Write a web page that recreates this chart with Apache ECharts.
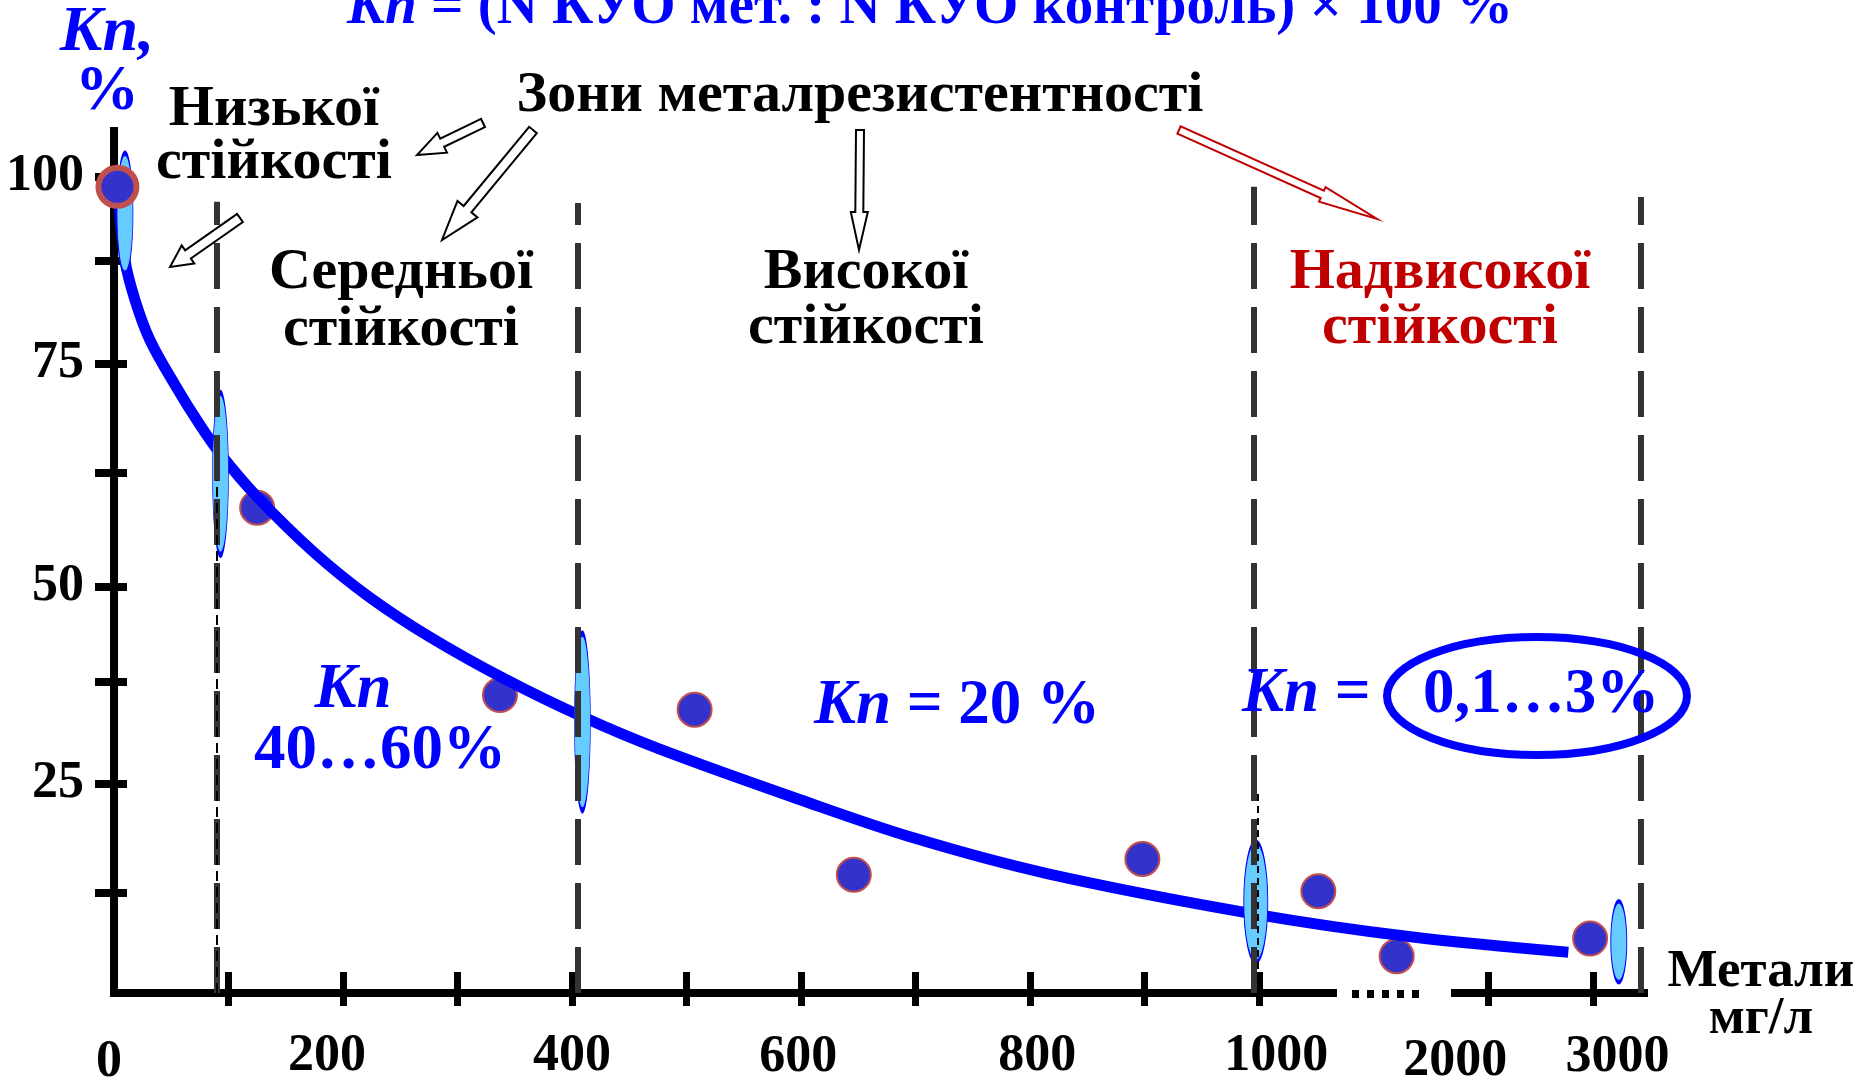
<!DOCTYPE html>
<html>
<head>
<meta charset="utf-8">
<script src="https://cdn.jsdelivr.net/npm/echarts@6/dist/echarts.min.js"></script>
<style>
  html, body { margin: 0; padding: 0; background: #fff; }
  #chart { width: 1864px; height: 1088px; }
</style>
</head>
<body>
<div id="chart"></div>
<script>
// ---- data (metals, mg/l on x; Kn, % on y) ----
const curveMg = [3.5, 9.6, 18.3, 31.4, 53.3, 75.1, 93.4, 124.9, 175.5, 223.6, 276, 342.4, 409.6, 476, 599.1, 698.7, 815.7, 994.8, 1670, 2760];
const curveKn = [98.1, 87.6, 82.8, 77.9, 72.6, 68.0, 64.6, 59.9, 53.7, 48.6, 43.4, 37.8, 33.2, 29.3, 23.2, 18.8, 14.7, 9.9, 7.0, 5.1];

const controlMg = [3];
const controlKn = [98.5];

const dotsMg = [125, 337, 507, 646, 898, 1258, 1600, 2967];
const dotsKn = [58.7, 35.9, 34.1, 14.6, 16.4, 12.7, 4.6, 6.8];

const ellipseMg = [9.6, 93, 409, 997, 3239];
const ellipseKn = [94.6, 62.4, 32.6, 11.4, 6.4];

const zoneMg = [90, 405, 995, 3450];
const zoneTop = [96.3, 96.1, 98.5, 97.0];

const xLabelMg = [0, 200, 400, 600, 800, 1000, 2000, 3000];
const xTickMg = [100, 200, 300, 400, 500, 600, 700, 800, 900, 1000, 2000, 3000];
const yLabels = [25, 50, 75, 100];
const yTicks = [12.5, 25, 37.5, 50, 62.5, 75, 87.5, 100];
// the hand-drawn y axis is not evenly spaced: nominal Kn -> linear axis units
const yWarpKn = [0, 12.5, 25, 37.5, 50, 62.5, 75, 87.5, 100];
const yWarpAx = [0, 12.25, 25.6, 38.1, 49.74, 63.7, 77.05, 89.67, 100];

// styles
const ellipseSize = [[16, 120], [16, 162], [16, 177], [24, 120], [16, 81]];
const xLabelPad = [[6, 10, 0, 0], [0, 32, 0, 0], [0, 0, 0, 0], [1, 6, 0, 0], [0, 0, 0, 14], [0, 0, 0, 34], [5, 66, 0, 0], [1, 0, 0, 48]];
const F = "'Liberation Serif','Times New Roman',serif";
const BLUE = '#0000FF';

// broken x axis: 0..1000 linear, then 1000..2000 and 2000..3000 squeezed
function toPos(v) {
  if (v <= 1000) return v / 100;
  if (v <= 2000) return 10 + (v - 1000) / 500;
  return 12 + (v - 2000) / 1000 * 0.92;
}
function toY(kn) {
  const n = yWarpKn.length;
  if (kn >= yWarpKn[n - 1]) {
    const s = (yWarpAx[n - 1] - yWarpAx[n - 2]) / (yWarpKn[n - 1] - yWarpKn[n - 2]);
    return yWarpAx[n - 1] + (kn - yWarpKn[n - 1]) * s;
  }
  for (let i = 1; i < n; i++) {
    if (kn <= yWarpKn[i]) {
      const t = (kn - yWarpKn[i - 1]) / (yWarpKn[i] - yWarpKn[i - 1]);
      return yWarpAx[i - 1] + t * (yWarpAx[i] - yWarpAx[i - 1]);
    }
  }
  return 0;
}
const pts = (xs, ys) => xs.map((v, i) => [toPos(v), toY(ys[i])]);

function txt(x, y, text, size, color, extra) {
  return {
    type: 'text', x: x, y: y, z: 100,
    style: Object.assign({
      text: text, fontFamily: F, fontWeight: 'bold', fontSize: size,
      fill: color, align: 'center', verticalAlign: 'middle'
    }, extra || {})
  };
}
function knRich(text, size, align) {
  return {
    text: text, align: align || 'center', verticalAlign: 'middle',
    rich: {
      i: { fontFamily: F, fontWeight: 'bold', fontStyle: 'italic', fontSize: size, fill: BLUE },
      r: { fontFamily: F, fontWeight: 'bold', fontSize: size, fill: BLUE }
    }
  };
}
function arrow(x1, y1, x2, y2, sw, hw, hl, color) {
  const dx = x2 - x1, dy = y2 - y1, L = Math.hypot(dx, dy);
  const ux = dx / L, uy = dy / L, nx = -uy, ny = ux;
  const bx = x2 - ux * hl, by = y2 - uy * hl;
  const p = (x, y, s) => [x + nx * s, y + ny * s];
  return {
    type: 'polygon', z: 90,
    shape: { points: [p(x1, y1, sw / 2), p(bx, by, sw / 2), p(bx, by, hw / 2), [x2, y2],
                      p(bx, by, -hw / 2), p(bx, by, -sw / 2), p(x1, y1, -sw / 2)] },
    style: { fill: '#fff', stroke: color, lineWidth: 2 }
  };
}

const zoneLines = zoneMg.map((m, i) => [
  { coord: [toPos(m), 0] }, { coord: [toPos(m), toY(zoneTop[i])] }
]);
zoneLines.push([{ coord: [toPos(90), 0], lineStyle: { type: [10, 6], width: 2, color: '#000' } },
                { coord: [toPos(90), toY(61.7)] }]);
zoneLines.push([{ coord: [toPos(999), 0], lineStyle: { type: [7, 5], width: 2, color: '#000' } },
                { coord: [toPos(999), toY(24)] }]);

const xLabelRich = {};
xLabelMg.forEach((m, i) => {
  xLabelRich['l' + i] = { fontFamily: F, fontWeight: 'bold', fontSize: 52, color: '#000', padding: xLabelPad[i] };
});

const chart = echarts.init(document.getElementById('chart'));
const xMax = 13.36, yMax = 105.6;
const xBase = { type: 'value', min: 0, max: xMax, position: 'bottom', splitLine: { show: false } };
const yBase = { type: 'value', min: 0, max: yMax, position: 'left', splitLine: { show: false } };

chart.setOption({
  animation: false,
  backgroundColor: '#fff',
  grid: { left: 114, top: 131, right: 220, bottom: 95, containLabel: false, outerBoundsMode: 'none' },
  xAxis: [
    Object.assign({}, xBase, {
      axisLine: { show: true, lineStyle: { color: '#000', width: 8, cap: 'square' } },
      axisTick: { show: true, inside: false, length: 13, lineStyle: { color: '#000', width: 7 },
                  customValues: xTickMg.map(toPos) },
      axisLabel: {
        show: true, margin: 38, color: '#000', fontFamily: F, fontWeight: 'bold', fontSize: 52,
        customValues: xLabelMg.map(toPos), rich: xLabelRich,
        formatter: function (v) {
          const i = xLabelMg.findIndex(m => Math.abs(toPos(m) - v) < 1e-6);
          return i >= 0 ? '{l' + i + '|' + xLabelMg[i] + '}' : '';
        }
      }
    }),
    Object.assign({}, xBase, {
      axisLine: { show: false },
      axisTick: { show: true, inside: true, length: 21, lineStyle: { color: '#000', width: 7 },
                  customValues: xTickMg.map(toPos) },
      axisLabel: { show: false }
    })
  ],
  yAxis: [
    Object.assign({}, yBase, {
      axisLine: { show: true, lineStyle: { color: '#000', width: 8, cap: 'square' } },
      axisTick: { show: true, inside: false, length: 19, lineStyle: { color: '#000', width: 8 },
                  customValues: yTicks.map(toY) },
      axisLabel: {
        show: true, margin: 30, color: '#000', fontFamily: F, fontWeight: 'bold', fontSize: 52,
        customValues: yLabels.map(toY),
        formatter: function (v) {
          const k = yLabels.find(l => Math.abs(toY(l) - v) < 1e-6);
          return k === undefined ? '' : String(k);
        }
      }
    }),
    Object.assign({}, yBase, {
      axisLine: { show: false },
      axisTick: { show: true, inside: true, length: 13, lineStyle: { color: '#000', width: 8 },
                  customValues: yTicks.map(toY) },
      axisLabel: { show: false }
    })
  ],
  series: [
    {
      name: 'zones', type: 'line', data: [], silent: true, z: 1,
      markLine: {
        silent: true, symbol: ['none', 'none'], label: { show: false },
        lineStyle: { color: '#333', width: 6, type: [46, 18] },
        data: zoneLines
      }
    },
    {
      name: 'points', type: 'scatter', z: 2,
      symbol: 'circle', symbolSize: 34,
      itemStyle: { color: '#3333CC', borderColor: '#C0504D', borderWidth: 2, opacity: 1 },
      data: pts(dotsMg, dotsKn)
    },
    {
      name: 'Kn', type: 'line', z: 3, smooth: 0.35, showSymbol: false, symbol: 'none',
      lineStyle: { color: BLUE, width: 11, join: 'round' },
      data: pts(curveMg, curveKn)
    },
    {
      name: 'zone-marks', type: 'scatter', z: 4, symbol: 'circle',
      itemStyle: { color: '#66CCFF', borderColor: BLUE, borderWidth: 2, opacity: 1 },
      data: pts(ellipseMg, ellipseKn).map((p, i) => ({ value: p, symbolSize: ellipseSize[i] }))
    },
    {
      name: 'control', type: 'scatter', z: 5, symbol: 'circle', symbolSize: 38,
      itemStyle: { color: '#3333CC', borderColor: '#C0504D', borderWidth: 6, opacity: 1 },
      data: pts(controlMg, controlKn)
    }
  ],
  graphic: [
    // break of the x axis
    { type: 'rect', z: 80, shape: { x: 1337, y: 983, width: 114, height: 22 }, style: { fill: '#fff' } },
    { type: 'line', z: 81, shape: { x1: 1352, y1: 994, x2: 1424, y2: 994 },
      style: { stroke: '#000', lineWidth: 8, lineDash: [7, 8] } },

    // title (cut by the top edge)
    { type: 'text', x: 930, y: 8, z: 100,
      style: knRich('{i|Kn}{r| = (N КУО мет. : N КУО контроль) × 100 %}', 57) },

    // axis names
    { type: 'text', x: 107, y: 33, z: 100, style: knRich('{i|Kn,}', 64) },
    txt(107, 92, '%', 64, BLUE),
    txt(1761, 996, 'Метали\nмг/л', 53, '#000', { lineHeight: 47 }),

    // zone captions
    txt(860, 96, 'Зони металрезистентності', 58, '#000'),
    txt(274, 137, 'Низької\nстійкості', 58, '#000', { lineHeight: 53 }),
    txt(401, 302, 'Середньої\nстійкості', 58, '#000', { lineHeight: 57 }),
    txt(866, 301, 'Високої\nстійкості', 58, '#000', { lineHeight: 55 }),
    txt(1440, 301, 'Надвисокої\nстійкості', 58, '#C00000', { lineHeight: 55 }),

    // Kn values
    { type: 'text', x: 353, y: 691, z: 100, style: knRich('{i|Kn}', 63) },
    txt(380, 752, '40…60%', 63, BLUE),
    { type: 'text', x: 957, y: 707, z: 100, style: knRich('{i|Kn}{r| = 20 %}', 63) },
    { type: 'text', x: 1242, y: 695, z: 100, style: knRich('{i|Kn}{r| =}', 63, 'left') },
    { type: 'ellipse', z: 95, shape: { cx: 1537, cy: 696, rx: 150, ry: 59 },
      style: { fill: 'none', stroke: BLUE, lineWidth: 8 } },
    txt(1541, 696, '0,1…3%', 63, BLUE),

    // arrows
    arrow(483, 123, 417, 155, 9, 22, 28, '#000'),
    arrow(533, 130, 442, 240, 10, 26, 40, '#000'),
    arrow(240, 218, 170, 267, 10, 22, 22, '#000'),
    arrow(860, 130, 859, 250, 8, 17, 38, '#000'),
    arrow(1179, 130, 1377, 219, 8, 16, 60, '#C00000')
  ]
});
</script>
</body>
</html>
